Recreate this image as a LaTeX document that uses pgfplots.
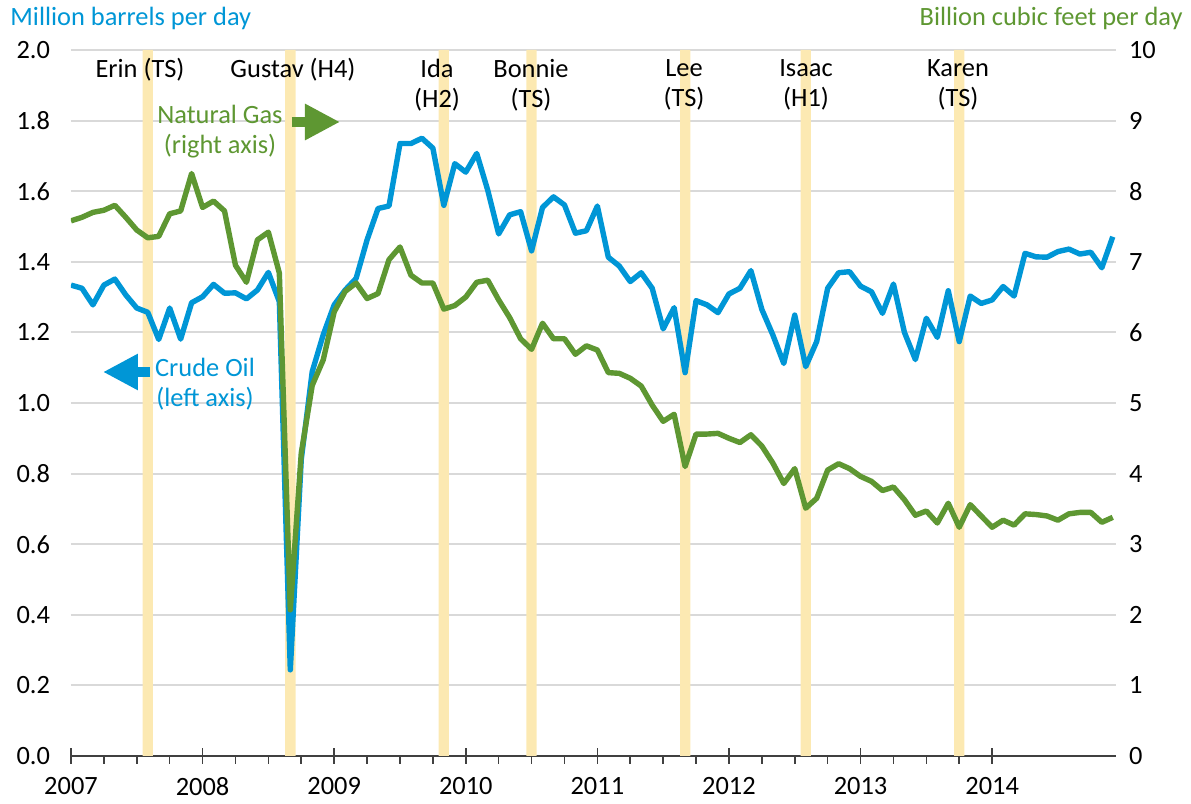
\documentclass[border=0pt]{standalone}
\usepackage{pgfplots}
\pgfplotsset{compat=1.18}
\usepackage{pgfplotstable}
\usepackage{fontspec}
\setmainfont{Carlito}
\usetikzlibrary{arrows.meta}
\definecolor{oil}{RGB}{0,150,214}
\definecolor{gas}{RGB}{94,151,50}
\definecolor{band}{RGB}{252,233,178}
\definecolor{gridc}{RGB}{217,217,217}

\pgfplotstableread{
m oil gas
0 1.334 7.58
1 1.325 7.63
2 1.278 7.70
3 1.334 7.73
4 1.351 7.80
5 1.306 7.63
6 1.269 7.45
7 1.257 7.34
8 1.180 7.36
9 1.269 7.68
10 1.181 7.72
11 1.284 8.25
12 1.301 7.77
13 1.336 7.86
14 1.311 7.72
15 1.312 6.95
16 1.295 6.71
17 1.320 7.31
18 1.370 7.42
19 1.287 6.84
20 0.244 2.07
21 0.840 4.29
22 1.089 5.25
23 1.193 5.61
24 1.278 6.29
25 1.320 6.58
26 1.353 6.70
27 1.462 6.48
28 1.551 6.55
29 1.558 7.03
30 1.735 7.21
31 1.735 6.81
32 1.750 6.70
33 1.722 6.70
34 1.560 6.33
35 1.678 6.38
36 1.654 6.50
37 1.707 6.71
38 1.603 6.74
39 1.479 6.46
40 1.533 6.21
41 1.542 5.91
42 1.431 5.76
43 1.554 6.13
44 1.584 5.91
45 1.561 5.91
46 1.481 5.69
47 1.488 5.81
48 1.558 5.75
49 1.413 5.43
50 1.388 5.42
51 1.344 5.35
52 1.369 5.24
53 1.325 4.97
54 1.210 4.74
55 1.270 4.84
56 1.086 4.10
57 1.290 4.56
58 1.278 4.56
59 1.256 4.57
60 1.309 4.50
61 1.325 4.44
62 1.375 4.55
63 1.265 4.39
64 1.193 4.15
65 1.112 3.86
66 1.249 4.07
67 1.103 3.51
68 1.174 3.65
69 1.325 4.05
70 1.369 4.14
71 1.372 4.07
72 1.331 3.96
73 1.315 3.89
74 1.254 3.76
75 1.337 3.81
76 1.200 3.63
77 1.123 3.41
78 1.240 3.47
79 1.186 3.30
80 1.318 3.58
81 1.174 3.24
82 1.303 3.56
83 1.282 3.40
84 1.292 3.24
85 1.330 3.34
86 1.303 3.27
87 1.424 3.43
88 1.414 3.42
89 1.413 3.40
90 1.429 3.34
91 1.436 3.43
92 1.422 3.45
93 1.427 3.45
94 1.383 3.31
95 1.471 3.38
}\data

\begin{document}
\begin{tikzpicture}[font=\fontsize{13.2}{15}\selectfont]
\useasboundingbox (-35.5pt,-24pt) rectangle (560pt,378pt);
\begin{axis}[
  scale only axis, width=522.5pt, height=353pt,
  xmin=2007, xmax=2014.941, ymin=0, ymax=2,
  axis x line*=bottom, axis y line*=left,
  y axis line style={draw=none},
  x axis line style={draw=black!75, line width=0.8pt, -},
  ytick={0,0.2,0.4,0.6,0.8,1.0,1.2,1.4,1.6,1.8,2.0},
  ytick style={draw=none},
  yticklabel style={/pgf/number format/.cd, fixed, fixed zerofill, precision=1, assume math mode=true},
  ymajorgrids, major grid style={gridc, line width=1pt},
  xtick={2007,2008,2009,2010,2011,2012,2013,2014},
  minor x tick num=3,
  xticklabel style={/pgf/number format/.cd, 1000 sep={}, assume math mode=true},
  tick label style={font=\fontsize{13.2}{15}\selectfont},
  tick align=center,
  major tick length=8pt, minor tick length=4pt,
  x tick style={draw=black!75, line width=0.8pt},
  minor x tick style={yshift=-2pt},
  xticklabel shift=3pt,
  yticklabel shift=3pt,
]
\addplot[ybar, bar width=0.078, bar shift=0pt, fill=band, draw=none]
  coordinates {(2007.583,2) (2008.667,2) (2009.833,2) (2010.5,2) (2011.667,2) (2012.583,2) (2013.75,2)};
\addplot[oil, line width=2.7pt, line join=round, no markers]
  table[x expr=2007+\thisrow{m}/12, y=oil] {\data};
\end{axis}
\begin{axis}[
  scale only axis, width=522.5pt, height=353pt,
  xmin=2007, xmax=2014.941, ymin=0, ymax=10,
  axis x line=none, axis y line*=right,
  y axis line style={draw=none},
  ytick={0,1,2,3,4,5,6,7,8,9,10},
  ytick style={draw=none},
  yticklabel style={/pgf/number format/assume math mode=true},
  tick label style={font=\fontsize{13.2}{15}\selectfont},
  yticklabel shift=3pt,
]
\addplot[gas, line width=2.7pt, line join=round, no markers]
  table[x expr=2007+\thisrow{m}/12, y=gas] {\data};
\end{axis}
% axis titles
\node[anchor=west, text=oil, inner sep=0pt] at (-30.5pt,369pt) {Million barrels per day};
\node[anchor=east, text=gas, inner sep=0pt] at (556pt,369pt) {Billion cubic feet per day};
% hurricane labels
\node[inner sep=0pt] at (34.5pt,343pt) {Erin (TS)};
\node[inner sep=0pt] at (111pt,343pt) {Gustav (H4)};
\node[inner sep=0pt, align=center] at (183pt,335.5pt) {Ida\\(H2)};
\node[inner sep=0pt, align=center] at (230pt,335.5pt) {Bonnie\\(TS)};
\node[inner sep=0pt, align=center] at (306.5pt,335.5pt) {Lee\\(TS)};
\node[inner sep=0pt, align=center] at (367.5pt,335.5pt) {Isaac\\(H1)};
\node[inner sep=0pt, align=center] at (443.5pt,335.5pt) {Karen\\(TS)};
% series annotations
\node[inner sep=0pt, align=center, text=gas] at (74.5pt,312pt) {Natural Gas\\(right axis)};
\draw[gas, line width=5pt, -{Triangle[length=17.5pt,width=17pt]}] (110.5pt,317pt) -- (134.5pt,317pt);
\node[inner sep=0pt, align=center, text=oil] at (67pt,186pt) {Crude Oil\\(left axis)};
\draw[oil, line width=5pt, -{Triangle[length=17.5pt,width=17pt]}] (39.5pt,192pt) -- (16pt,192pt);
\end{tikzpicture}
\end{document}
